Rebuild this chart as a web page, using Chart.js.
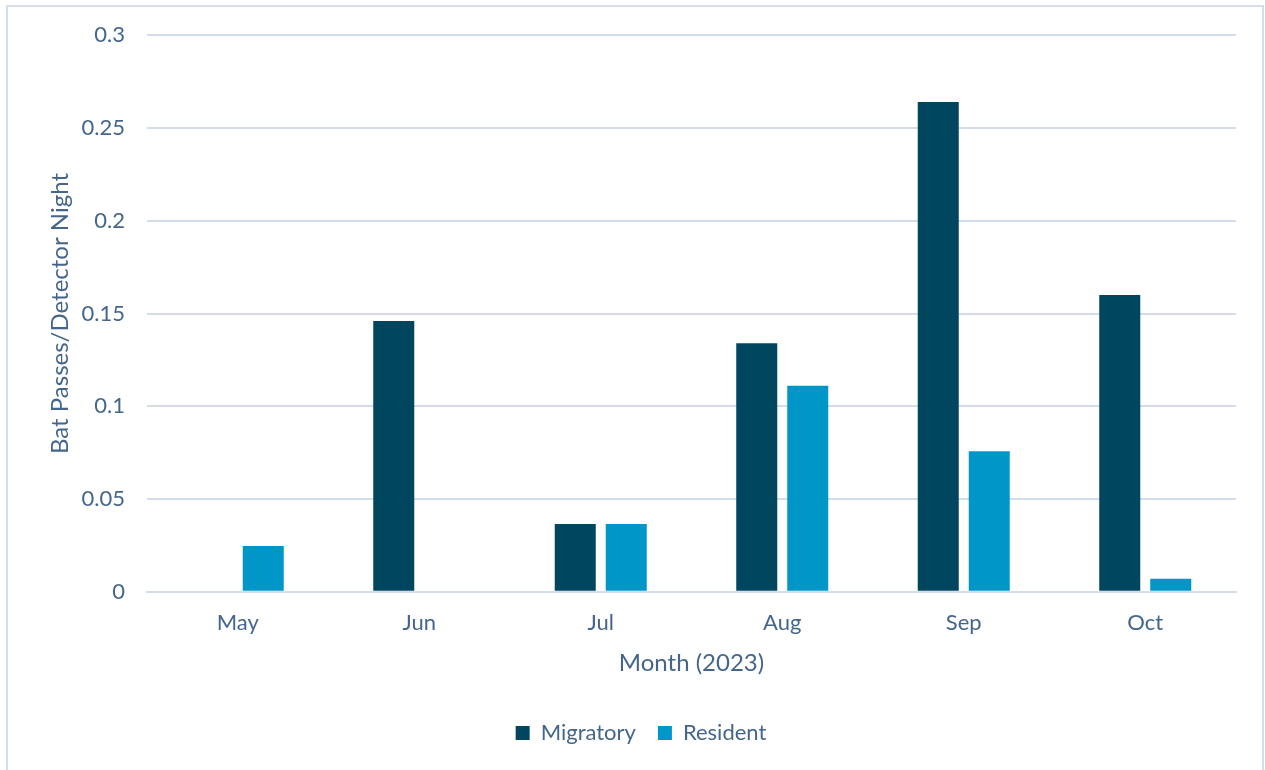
<!DOCTYPE html>
<html>
<head>
<meta charset="utf-8">
<script src="https://cdn.jsdelivr.net/npm/chart.js@4.4.0/dist/chart.umd.min.js"></script>
<style>
  html, body { margin: 0; padding: 0; background: #ffffff; }
  #wrap { position: relative; width: 1265px; height: 770px; }
</style>
</head>
<body>
<div id="wrap"><canvas id="c" width="1265" height="770"></canvas></div>
<script>
// Bat activity by month, 2023
const months = ['May', 'Jun', 'Jul', 'Aug', 'Sep', 'Oct'];
const migratory = [0, 0.146, 0.0365, 0.134, 0.264, 0.160];
const resident = [0.0247, 0, 0.0365, 0.111, 0.0758, 0.007];
const yTicks = [0, 0.05, 0.1, 0.15, 0.2, 0.25, 0.3];

const textColor = '#44668c';
const gridColor = '#d3dde9';
const fontFamily = 'Lato, "Open Sans", sans-serif';

// thin outer frame around the whole chart
const framePlugin = {
  id: 'frame',
  beforeDraw(chart) {
    const ctx = chart.ctx;
    ctx.save();
    ctx.fillStyle = '#ffffff';
    ctx.fillRect(0, 0, chart.width, chart.height);
    ctx.strokeStyle = '#d5dee9';
    ctx.lineWidth = 2;
    ctx.strokeRect(7, 6, 1256, 780);
    ctx.restore();
  }
};

new Chart(document.getElementById('c'), {
  type: 'bar',
  data: {
    labels: months,
    datasets: [
      { label: 'Migratory', data: migratory, backgroundColor: '#00465f' },
      { label: 'Resident', data: resident, backgroundColor: '#0096c8' }
    ]
  },
  options: {
    responsive: false,
    animation: false,
    devicePixelRatio: 1,
    layout: { padding: { left: 46, right: 29, top: 22, bottom: 16 } },
    datasets: { bar: { categoryPercentage: 0.562, barPercentage: 0.804 } },
    plugins: {
      legend: {
        position: 'bottom',
        labels: {
          color: textColor,
          font: { family: fontFamily, size: 22 },
          boxWidth: 14, boxHeight: 14, padding: 22
        }
      },
      tooltip: { enabled: false }
    },
    scales: {
      x: {
        grid: { display: false, drawTicks: false },
        border: { display: true, color: gridColor, width: 2 },
        ticks: { color: textColor, font: { family: fontFamily, size: 22 }, padding: 18 },
        title: {
          display: true, text: 'Month (2023)', color: textColor,
          font: { family: fontFamily, size: 24 }, padding: { top: -5, bottom: 22 }
        }
      },
      y: {
        min: 0, max: 0.3,
        afterBuildTicks(axis) { axis.ticks = yTicks.map(v => ({ value: v })); },
        afterFit(axis) { axis.width = 101; },
        grid: { color: gridColor, lineWidth: 2, drawTicks: false },
        border: { display: false },
        ticks: {
          color: textColor, font: { family: fontFamily, size: 22 }, padding: 22,
          callback: v => String(v)
        },
        title: {
          display: true, text: 'Bat Passes/Detector Night', color: textColor,
          font: { family: fontFamily, size: 24 }, padding: { top: 0, bottom: 0 }
        }
      }
    }
  },
  plugins: [framePlugin]
});
</script>
</body>
</html>
